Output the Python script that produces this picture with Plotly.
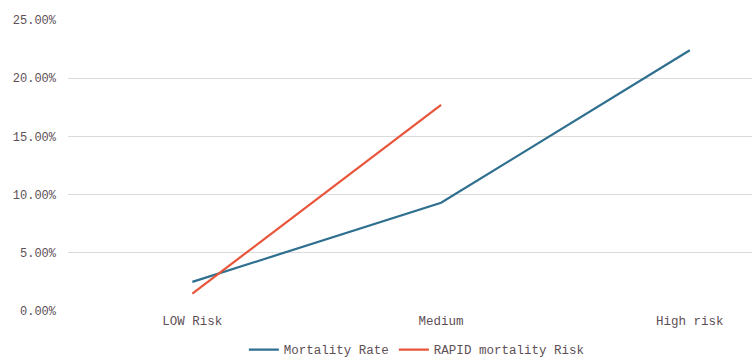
import plotly.graph_objects as go

categories = ["LOW Risk", "Medium", "High risk"]
mortality_rate = [2.5, 9.3, 22.4]
rapid_risk = [1.5, 17.7, None]
y_ticks = [0, 5, 10, 15, 20, 25]
y_tick_labels = ["0.00%", "5.00%", "10.00%", "15.00%", "20.00%", "25.00%"]

font_mono = "Liberation Mono, Courier New, monospace"
text_color = "#5e4f56"

fig = go.Figure()
fig.add_trace(go.Scatter(
    x=categories, y=mortality_rate, mode="lines", name="Mortality Rate",
    line=dict(color="#2f6f8f", width=2.2),
))
fig.add_trace(go.Scatter(
    x=categories, y=rapid_risk, mode="lines", name="RAPID mortality Risk",
    line=dict(color="#e8553a", width=2.2),
))

fig.update_layout(
    width=754, height=360,
    margin=dict(l=68, r=2, t=20, b=49, autoexpand=False),
    paper_bgcolor="white", plot_bgcolor="white",
    font=dict(family=font_mono, size=12.5, color=text_color),
    xaxis=dict(
        range=[-0.5, 2.25], showgrid=False, zeroline=False, showline=False,
        ticks="", tickfont=dict(size=12.5, color=text_color),
    ),
    yaxis=dict(
        range=[0, 25], tickvals=y_ticks, ticktext=y_tick_labels,
        showgrid=True, gridcolor="#dadada", gridwidth=1, zeroline=False,
        showline=False, ticks="", ticklabelstandoff=11,
        tickfont=dict(size=12, color=text_color),
    ),
    legend=dict(
        orientation="h", x=0.51, xanchor="center",
        yref="container", y=0.028, yanchor="middle",
        font=dict(size=12.5, color=text_color), itemwidth=30,
    ),
    showlegend=True,
)

fig.write_html("out.html")
